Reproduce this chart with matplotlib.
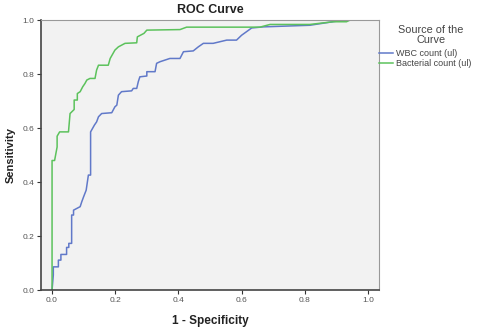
import numpy as np
import matplotlib.pyplot as plt

plt.rcParams['font.family'] = ['Liberation Sans', 'DejaVu Sans']

wbc_x = [0.0, 0.004, 0.004, 0.02, 0.02, 0.028, 0.028, 0.046, 0.046, 0.053, 0.053,
         0.062, 0.062, 0.068, 0.068, 0.089, 0.094, 0.100, 0.108, 0.115, 0.122, 0.122,
         0.134, 0.141, 0.147, 0.157, 0.189, 0.199, 0.205, 0.210, 0.220, 0.252, 0.257,
         0.268, 0.273, 0.278, 0.300, 0.300, 0.326, 0.331, 0.342, 0.373, 0.405, 0.416,
         0.447, 0.463, 0.479, 0.510, 0.553, 0.584, 0.600, 0.632, 0.669, 0.816, 0.922, 1.0]
wbc_y = [0.0, 0.056, 0.086, 0.086, 0.111, 0.111, 0.132, 0.132, 0.158, 0.158, 0.173,
         0.173, 0.278, 0.278, 0.296, 0.309, 0.327, 0.346, 0.370, 0.426, 0.426, 0.586,
         0.611, 0.623, 0.642, 0.654, 0.657, 0.679, 0.685, 0.722, 0.735, 0.738, 0.747,
         0.747, 0.772, 0.790, 0.793, 0.809, 0.809, 0.840, 0.846, 0.858, 0.858, 0.883,
         0.886, 0.901, 0.914, 0.914, 0.926, 0.926, 0.944, 0.971, 0.975, 0.981, 1.0, 1.0]

# Bacterial count (ul)
bac_x = [0.0, 0.0, 0.008, 0.016, 0.016, 0.024, 0.024, 0.052, 0.057, 0.057, 0.070,
         0.070, 0.080, 0.080, 0.089, 0.097, 0.104, 0.110, 0.120, 0.136, 0.141, 0.147,
         0.178, 0.184, 0.199, 0.210, 0.231, 0.268, 0.270, 0.291, 0.300, 0.405, 0.426,
         0.658, 0.690, 0.816, 0.890, 0.932, 0.943, 1.0]
bac_y = [0.0, 0.48, 0.48, 0.53, 0.57, 0.586, 0.586, 0.586, 0.654, 0.654, 0.669,
         0.704, 0.704, 0.728, 0.735, 0.753, 0.765, 0.778, 0.784, 0.784, 0.815, 0.833,
         0.833, 0.858, 0.889, 0.901, 0.914, 0.916, 0.938, 0.951, 0.963, 0.965, 0.974,
         0.974, 0.984, 0.984, 0.994, 0.994, 1.0, 1.0]

ticks = [0.0, 0.2, 0.4, 0.6, 0.8, 1.0]
tick_labels = ['0.0', '0.2', '0.4', '0.6', '0.8', '1.0']

fig = plt.figure(figsize=(5, 3.3), dpi=100)
ax = fig.add_axes([0.082, 0.121, 0.676, 0.818])
ax.set_facecolor('#f2f2f2')

ax.plot(wbc_x, wbc_y, color='#6179c9', lw=1.1, label='WBC count (ul)')
ax.plot(bac_x, bac_y, color='#5cc25c', lw=1.1, label='Bacterial count (ul)')

ax.set_xlim(-0.035, 1.035)
ax.set_ylim(0, 1)
ax.set_xticks(ticks)
ax.set_xticklabels(tick_labels)
ax.set_yticks(ticks)
ax.set_yticklabels(tick_labels)
ax.tick_params(direction='out', length=3, width=0.8, labelsize=6,
               labelcolor='#555555', color='#333333', pad=2)

for s in ['left', 'bottom']:
    ax.spines[s].set_color('#444444')
    ax.spines[s].set_linewidth(1.2)
for s in ['top', 'right']:
    ax.spines[s].set_color('#999999')
    ax.spines[s].set_linewidth(0.8)

ax.set_title('ROC Curve', fontsize=9, fontweight='bold', color='#222222', pad=5)
ax.set_xlabel('1 - Specificity', fontsize=8.5, fontweight='bold', color='#222222', labelpad=8)
ax.set_ylabel('Sensitivity', fontsize=8, fontweight='bold', color='#222222', labelpad=5)

# titulo de la leyenda como texto aparte
fig.text(0.862, 1 - 35 / 330, 'Source of the\nCurve', ha='center', va='center',
         fontsize=7.8, color='#444444', linespacing=1.0)

leg = ax.legend(loc='upper left', bbox_to_anchor=(1.0, 0.893),
                frameon=False, fontsize=6.5, handlelength=1.6,
                handletextpad=0.3, labelspacing=0.12, borderaxespad=0, borderpad=0)
for t in leg.get_texts():
    t.set_color('#444444')

fig.savefig('out.png', dpi=100)
